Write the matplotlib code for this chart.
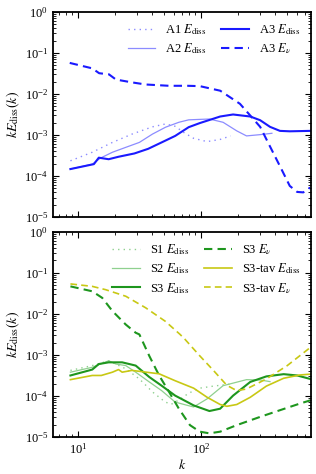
import matplotlib
matplotlib.use("Agg")
import matplotlib.pyplot as plt
from matplotlib.ticker import LogLocator, NullFormatter

plt.rcParams['font.family'] = ['Liberation Serif', 'DejaVu Serif']
plt.rcParams['mathtext.fontset'] = 'stix'
plt.rcParams['font.size'] = 9

# ---- top panel data ----
a1_k = [8.71, 13.1, 19.1, 27.5, 40.3, 51.6, 62.2, 70.8, 87.1, 112, 143, 174]
a1_ed = [2.35e-4, 3.8e-4, 6.6e-4, 1.05e-3, 1.58e-3, 1.86e-3, 1.62e-3, 1.2e-3, 8.3e-4, 6.9e-4, 7.8e-4, 9.5e-4]

a2_k = [8.71, 13.1, 15.3, 19.1, 24.5, 31.6, 40.3, 51.6, 66.1, 79.4, 97.7, 117, 151, 195, 234, 302, 376]
a2_ed = [1.48e-4, 1.95e-4, 2.75e-4, 3.8e-4, 5.0e-4, 6.6e-4, 1.05e-3, 1.55e-3, 2.04e-3, 2.34e-3, 2.4e-3, 2.45e-3, 2.04e-3, 1.26e-3, 9.5e-4, 1.02e-3, 1.1e-3]

a3_k = [8.71, 13.5, 14.8, 17.8, 21.4, 28.8, 37.2, 47.9, 61.7, 79.4, 97.7, 143, 182, 251, 302, 363, 437, 525, 769]
a3_ed = [1.48e-4, 1.95e-4, 2.8e-4, 2.57e-4, 2.95e-4, 3.55e-4, 4.6e-4, 6.6e-4, 9.5e-4, 1.55e-3, 1.95e-3, 2.82e-3, 3.16e-3, 2.82e-3, 2.29e-3, 1.58e-3, 1.26e-3, 1.23e-3, 1.26e-3]

a3v_k = [8.6, 13.1, 14.9, 17.9, 20.4, 27.9, 35.5, 55.0, 77.6, 97.7, 143, 207, 302, 363, 437, 525, 603, 676, 769]
a3_ev = [0.057, 0.042, 0.032, 0.030, 0.0224, 0.019, 0.017, 0.0158, 0.0158, 0.0155, 0.012, 0.00575, 1.58e-3, 5.25e-4, 1.74e-4, 5.75e-5, 4.1e-5, 4.0e-5, 5.25e-5]

# ---- bottom panel data ----
s1_k = [8.71, 13.1, 17.8, 24.5, 31.6, 40.7, 51.3, 57.5, 67.6, 79.4, 97.7, 126, 174]
s1_ed = [4.2e-4, 5.5e-4, 7.2e-4, 4.6e-4, 2.6e-4, 1.23e-4, 7.1e-5, 6.3e-5, 8.3e-5, 1.17e-4, 1.55e-4, 1.74e-4, 1.95e-4]

s2_k = [8.71, 13.1, 17.8, 20.4, 24.5, 29.5, 38.0, 47.9, 61.7, 77.6, 87.1, 112, 151, 234, 302, 363]
s2_ed = [3.8e-4, 5.0e-4, 7.2e-4, 6.0e-4, 5.5e-4, 3.8e-4, 2.2e-4, 1.35e-4, 7.1e-5, 5.9e-5, 5.4e-5, 8.5e-5, 1.78e-4, 2.5e-4, 2.45e-4, 2.24e-4]

s3_k = [8.71, 13.1, 14.8, 17.8, 22.9, 29.5, 38.0, 47.9, 61.7, 77.6, 87.1, 117, 143, 182, 251, 339, 468, 603, 769]
s3_ed = [3.16e-4, 4.4e-4, 6.0e-4, 6.6e-4, 6.6e-4, 5.5e-4, 2.9e-4, 1.78e-4, 1.02e-4, 7.1e-5, 5.9e-5, 4.3e-5, 4.9e-5, 1.02e-4, 2.2e-4, 3.0e-4, 3.4e-4, 3.16e-4, 2.6e-4]

s3v_k = [8.71, 13.1, 15.8, 19.1, 24.5, 29.5, 31.6, 38.0, 45.7, 55.0, 66.1, 81.3, 97.7, 117, 143, 195, 302, 437, 631, 769]
s3_ev = [0.0468, 0.0355, 0.0245, 0.0117, 0.0055, 0.00347, 0.00316, 9.5e-4, 3.16e-4, 1.26e-4, 4.9e-5, 1.95e-5, 1.35e-5, 1.23e-5, 1.35e-5, 1.95e-5, 3.1e-5, 4.5e-5, 6.5e-5, 7.8e-5]

tav_k = [8.71, 13.1, 15.5, 19.1, 21.4, 22.9, 27.5, 45.7, 61.7, 77.6, 87.1, 112, 143, 162, 195, 251, 339, 468, 631, 769]
tav_ed = [2.5e-4, 3.16e-4, 3.16e-4, 3.8e-4, 4.4e-4, 3.8e-4, 4.2e-4, 3.47e-4, 2.35e-4, 1.78e-4, 1.55e-4, 9.3e-5, 6.2e-5, 5.6e-5, 6.2e-5, 9.3e-5, 1.74e-4, 2.7e-4, 3.24e-4, 3.4e-4]

tavv_k = [8.71, 13.1, 16.8, 24.5, 35.5, 51.3, 67.6, 74.1, 97.7, 126, 162, 195, 234, 339, 501, 769]
tav_ev = [0.0537, 0.0468, 0.0389, 0.0269, 0.0141, 0.0066, 0.00316, 0.0024, 9.5e-4, 4.2e-4, 1.82e-4, 1.35e-4, 1.48e-4, 2.6e-4, 5.5e-4, 1.51e-3]

blue = '#1a1aff'
lblue = '#8c8cff'
dgreen = '#1e961e'
lgreen = '#8fd08f'
yellow = '#c8c814'

fig = plt.figure(figsize=(3.16, 4.74), dpi=100)
ax1 = fig.add_axes([0.168, 0.542, 0.816, 0.433])
ax2 = fig.add_axes([0.168, 0.078, 0.816, 0.433])

ax1.plot(a1_k, a1_ed, ls=(0, (1, 3)), color=lblue, lw=1.0, label=r'A1 $E_{\rm diss}$')
ax1.plot(a2_k, a2_ed, ls='-', color=lblue, lw=0.9, label=r'A2 $E_{\rm diss}$')
ax1.plot(a3_k, a3_ed, ls='-', color=blue, lw=1.5, label=r'A3 $E_{\rm diss}$')
ax1.plot(a3v_k, a3_ev, ls=(0, (4, 2.5)), color=blue, lw=1.5, label=r'A3 $E_{\nu}$')

ax2.plot(s1_k, s1_ed, ls=(0, (1, 3)), color=lgreen, lw=1.0, label=r'S1 $E_{\rm diss}$')
ax2.plot(s2_k, s2_ed, ls='-', color=lgreen, lw=0.9, label=r'S2 $E_{\rm diss}$')
ax2.plot(s3_k, s3_ed, ls='-', color=dgreen, lw=1.5, label=r'S3 $E_{\rm diss}$')
ax2.plot(s3v_k, s3_ev, ls=(0, (4, 2.5)), color=dgreen, lw=1.5, label=r'S3 $E_{\nu}$')
ax2.plot(tav_k, tav_ed, ls='-', color=yellow, lw=1.2, label=r'S3-tav $E_{\rm diss}$')
ax2.plot(tavv_k, tav_ev, ls=(0, (4, 2.5)), color=yellow, lw=1.2, label=r'S3-tav $E_{\nu}$')

for ax in (ax1, ax2):
    ax.set_xscale('log')
    ax.set_yscale('log')
    ax.set_xlim(6.3, 780)
    ax.set_ylim(1e-5, 1)
    ax.yaxis.set_major_locator(LogLocator(base=10, numticks=10))
    ax.yaxis.set_minor_locator(LogLocator(base=10, subs=range(2, 10), numticks=20))
    ax.yaxis.set_minor_formatter(NullFormatter())
    ax.tick_params(which='both', direction='in', top=True, right=True, labelsize=9)
    ax.tick_params(which='major', length=4, width=0.8)
    ax.tick_params(which='minor', length=2, width=0.6)
    for s in ax.spines.values():
        s.set_linewidth(1.3)
    ax.set_ylabel(r'$kE_{\rm diss}(k)$', fontsize=10, labelpad=2)
    ax.legend(ncol=2, frameon=False, loc='upper right', fontsize=9,
              handlelength=2.2, columnspacing=1.2, labelspacing=0.35,
              borderaxespad=0.45)

ax1.tick_params(labelbottom=False)
ax2.set_xlabel(r'$k$', fontsize=10, labelpad=1)

fig.savefig('out.png', dpi=100)
